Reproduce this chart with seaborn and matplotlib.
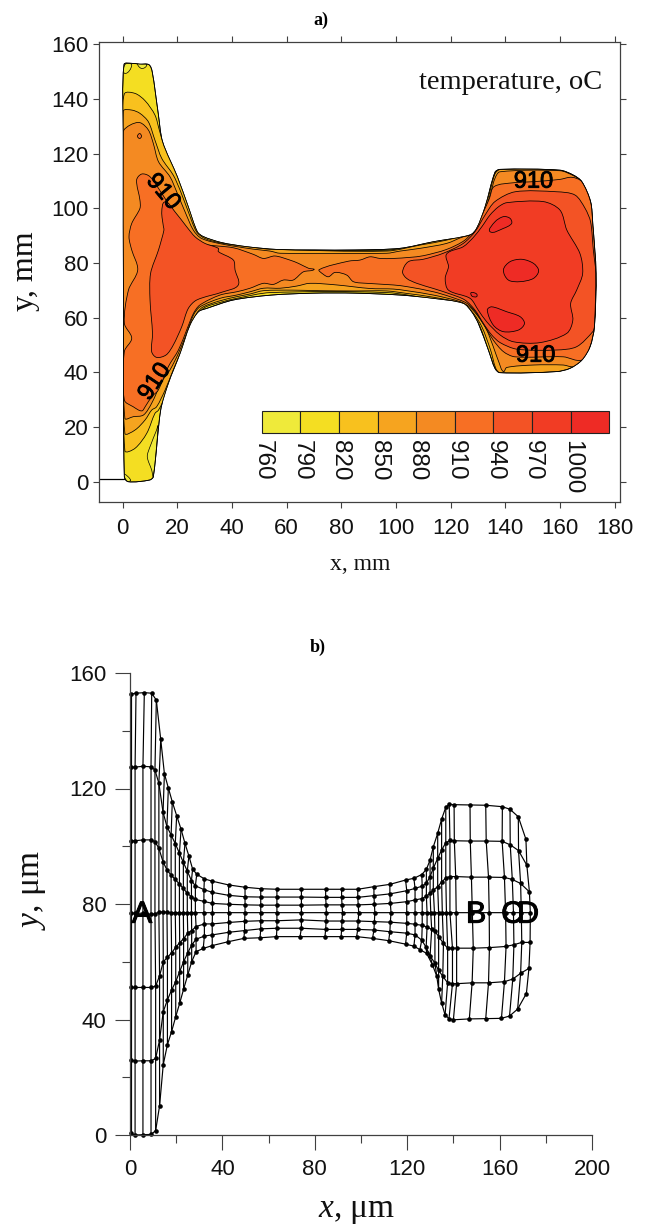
import matplotlib
matplotlib.use("Agg")
import matplotlib.pyplot as plt
import matplotlib.patheffects as pe
from matplotlib.patches import PathPatch
from matplotlib.path import Path
import numpy as np
import pandas as pd
import seaborn as sns

# --- panel a: temperature regions, mm ---
levels = [760, 790, 820, 850, 880, 910, 940, 970, 1000]
level_colors = ['#EFEA3A', '#F4DE22', '#F8C11E', '#F6A41F', '#F48A22', '#F76F24', '#F35325', '#F13C24', '#EE2B25']

outline = [(0.5,152.7),(3.3,153.1),(6.3,152.8),(9.6,152.6),(10.8,150),(13,134.8),(14.6,124.4),(20,111.6),(24,100.6),
           (27.3,91.5),(29.5,89.7),(36.2,87.5),(45.4,86),(56.3,85),(70,84.8),(85,84.8),(101.5,85.4),(113.6,87.8),
           (127.1,90.3),(129.5,92.7),(132.6,100.6),(136.2,113.2),(138,114.3),(160,114),(164.9,112.2),(168,109.8),
           (171.2,102.5),(172,94.5),(173.2,76.3),(172.6,56.7),(171,49.4),(168,44.5),(163.7,41.5),(158.8,40.3),
           (138,39.9),(136.2,41.5),(133.8,48.2),(130.1,58),(127.7,62.2),(124.6,65.3),(113.6,67.1),(101.5,68.3),
           (85,69),(70,69),(54.5,68.3),(40.5,66.5),(30.7,63.4),(27.7,62.2),(24.6,57.3),(21,47),(16.7,36),(13.9,26.2),
           (11.2,1.8),(9.8,0.6),(2,0),(0.6,1.8),(0.3,60),(0.2,128)]

tips_760 = [[(0.85,149.4),(3.3,152.5),(0.85,152.7)],
            [(5.4,153),(7,151.2),(8.8,152.5),(7,152.9)],
            [(0.6,2.8),(2.9,0.6),(1.8,0.1),(0.7,1.6)],
            [(9,9.1),(10.6,4.3),(11.2,1.8),(13,20.7),(12.4,18.9),(10,12.8)]]

region_820 = [(0.6,141.9),(4.5,142.1),(8.2,139.4),(11.8,134.2),(13.4,128.7),(15.1,123.2),(20.4,111.6),(24.4,100.6),
              (27.4,92),(30.1,89.6),(36.8,87.7),(45.4,86.4),(53.9,85.2),(96.6,84.7),(108.8,87),(118.5,88.9),(125.7,90.3),
              (127.7,90.3),(130.1,95.1),(132.9,103.1),(135.9,112.2),(137.8,114),(160,114),(164.9,112.2),(168,109.8),
              (171.2,102.5),(172,94.5),(173.2,76.3),(172.6,56.7),(171,49.4),(168,44.5),(163.7,41.5),(158.8,40.3),
              (138,39.9),(136.5,40.9),(133.8,48.2),(130.5,57.3),(127.7,61.6),(124.6,64.6),(113.7,66.7),(96.6,69.2),
              (54,69.2),(41.7,67.1),(35.6,65.6),(30.1,63.8),(27.7,61.4),(25.3,55.5),(22.2,48.2),(19.1,40.3),(16.1,32.3),
              (13.1,26.2),(11.8,25),(8.8,17.7),(4.5,12.2),(0.8,11.3),(0.3,60),(0.2,128)]

region_850 = [(0.2,135.6),(3.3,136),(6.3,134.8),(9.4,131.7),(11.8,125),(14.3,118.3),(18.5,112.2),(21,106.7),(24,98.8),
              (27,91.5),(30.1,89),(36.2,87.3),(45.4,86.1),(53.9,85.1),(96.6,84.4),(108.8,86.6),(118.5,88.4),(125.3,90.5),
              (128.3,90.9),(130.7,96.4),(133.8,104.3),(136.2,112.6),(138,114.2),(160,114),(164.9,112.2),(168,109.8),
              (171.2,102.5),(172,94.5),(173.2,76.3),(172.6,56.7),(171,49.4),(168,44.5),(163.7,41.5),(158.8,40.3),
              (138,39.9),(136.5,41.5),(134.6,48.2),(131.4,56.7),(128.3,61.6),(124.6,65),(113.7,67.5),(103.9,68.9),
              (96.6,69.8),(84.4,69.8),(72.2,69.9),(62.4,70.1),(51.5,69.9),(46.6,68.7),(41.7,67.7),(35.6,66.2),(29.5,64),
              (27.1,61.6),(24.6,55.5),(21.6,48.2),(18.5,40.9),(15.5,33.5),(12.4,27.4),(10.6,26.2),(8.2,22.6),(4.5,18.9),
              (0.8,17.7),(0.3,60)]

region_880 = [(0.2,128),(2.7,130.5),(6.3,131.4),(9.4,128.7),(11.2,123.8),(13.1,117.1),(17.3,111.6),(20,105.5),(22.8,98.8),
              (25.9,92),(28.9,89),(36.2,87),(47.8,85.1),(53.9,84.4),(57.6,83.6),(96.6,83.6),(101.5,84.4),(108.8,85.4),
              (118.5,87.2),(124.7,89.7),(128.9,90.9),(132,97.6),(134.6,105.5),(136.2,111),(138,113.4),(160,113.8),
              (164.9,112),(168,109.8),(171.2,102.5),(172,94.5),(173.2,76.3),(172.6,56.7),(171,49.4),(168,44.5),(164.9,42.1),
              (161.2,42.7),(150.3,42.7),(140.5,41.8),(139.3,40.3),(137.8,43.3),(135.6,49.4),(133.2,55.5),(130.1,60.4),
              (127.1,63.8),(123.4,65.9),(113.7,68.3),(103.9,69.9),(99,70.5),(90.5,70.7),(78.3,72),(68.5,72.6),(63.7,71.6),
              (57.6,70.8),(51.5,70.8),(46.6,69.5),(41.7,68.3),(35.6,67.1),(28.3,64),(25.9,61),(23.4,54.3),(20.4,47),
              (17.3,40.9),(14.3,36.6),(10.6,28.7),(7.6,24.4),(3.9,23.8),(0.8,23.2),(0.3,60)]

region_910_left = [(7,112.6),(10,111.6),(14.3,105.5),(17.9,100),(21.6,95.1),(25.2,90.2),(28.3,87.2),(40.5,85.6),(47.8,83.2),
                   (51.5,81.7),(55.7,82.6),(61.2,81.1),(64.3,79.9),(68,78.1),(70,77.6),(66.1,76.8),(62.4,73.8),(58.8,73.8),
                   (55.1,72.2),(51.5,72.6),(46.6,70.8),(41.7,69.5),(35.6,68.3),(28.3,64.7),(25.9,61.6),(23.4,55.5),(20.4,48.2),
                   (16.7,42.1),(13,33.5),(10.6,31.1),(8.2,27.4),(6.95,25.9),(3.9,27.4),(0.6,29.9),(0.6,47.6),(3.3,52.5),
                   (0.6,58),(2.1,70.1),(5.5,77.5),(3.3,84.8),(2.3,89.6),(3.3,94.5),(6.3,100),(6.3,103.1),(5.1,110.4)]

region_910_right = [(71.9,77.6),(82.6,80.7),(86.8,81.1),(90.5,82.3),(94.2,81.7),(99,81.7),(105.1,82.1),(110,82.7),(118.5,85),
                    (125.2,88.4),(128.9,92.7),(132,98.8),(134.2,103.7),(135.9,108),(143,109.4),(150.3,109.8),(159.8,110.6),
                    (164.3,111.4),(168,109.8),(171.2,102.5),(172,94.5),(173.2,76.3),(172.6,56.7),(171,49.4),(168,44.5),
                    (161.2,45.7),(143.5,45.7),(139.3,47.6),(135.6,51.8),(132.6,56.7),(129.5,61.6),(125.9,65.3),(119.8,67.7),
                    (113.7,69.5),(103.9,71.4),(99,72),(89.3,72.6),(84.4,73.2),(82,75.6),(77.7,76.6),(75.3,75),(73.4,75.9)]

region_940_left = [(15.5,102.4),(19.1,98.8),(23.4,93.3),(26.5,89.6),(30.1,87.2),(35,85.4),(35,84.2),(40.5,81.1),(41.1,77.5),
                   (42.3,72),(36.8,69.5),(27.1,66.5),(24,63.4),(21.6,56.7),(18.5,50),(15.9,46.4),(12.4,45.5),(10.6,47.6),
                   (10.9,54.3),(10,66.5),(10.2,76.2),(13.1,84.8),(15.1,92.1),(14.9,93.3),(14.3,98.8)]

region_940_right = [(102.4,76.8),(104.5,80.5),(110,81.4),(117.3,83.6),(124.6,87.2),(128.9,91.5),(132.6,97.6),(136.2,102.5),
                    (143.6,106.1),(158.8,106.1),(165.5,104.9),(169.2,100),(171.2,95.1),(172.2,84.8),(173.1,76.2),(172.6,56.7),
                    (172,54.9),(166.1,49.4),(158.8,48.2),(144.2,48.5),(138.1,50.9),(135,53.7),(132,57.9),(128.9,62.8),
                    (125.2,66.5),(119.8,68.7),(113.7,70.7),(107.6,72.6),(103.9,74.4)]

region_970 = [(118.5,83.3),(124.6,86),(128.3,89.4),(131.4,93.3),(134.4,97.6),(137.5,100.6),(140.5,102.1),(153.9,102.5),
              (160,99.4),(162.5,92.1),(167.3,83.5),(168.3,76.2),(166.1,70.1),(163.9,65.2),(164.7,59.1),(162.5,54.3),
              (152.7,50.9),(143,51.2),(138.1,53.7),(133.2,58.5),(130.1,62.8),(127.1,67.1),(119.2,70.1),(118,74.4),(119.2,78.7)]

islands_1000 = [[(139.3,77.5),(141.7,80.5),(146,81.4),(150.3,79.9),(152.2,77.2),(150.3,74.4),(145.4,73.2),(141.1,73.8)],
                [(134.4,91.5),(136.2,95.1),(139.3,97),(141.7,96.4),(142.3,94.5),(139.3,92.7)],
                [(133.4,62.8),(135,64),(140.5,62.2),(145.4,60.4),(147,57.9),(144.8,55.5),(139.3,54.9),(135.6,57.3)],
                [(127.5,69.2),(129.5,68.7),(129.5,67.7),(127.8,67.9)]]

small_ring = [(5.4,126.4),(6.2,127.4),(6.9,126.4),(6.2,125.6)]
stub_x = [-8.67, 0.5]
stub_y = [0.9, 0.9]

contour_labels = ['910', '910', '910', '910']
contour_label_x = [14.7, 11.8, 150.3, 151.1]
contour_label_y = [106, 36.5, 109.8, 46.1]
contour_label_rot = [-50, 56, 0, 0]

# --- panel b: deformed mesh, um, rows run top to bottom ---
row0_x = [0.4,2.6,6.2,9.4,11.4,13.3,14.9,16.6,18.3,20.2,22.1,23.8,25.5,27.1,28.9,32.2,35.6,42.7,49.8,56.6,63.6,74.2,84.7,91.6,98.6,105.6,112.5,119.3,122.9,126.3,128.3,129.9,131.3,133.2,134.9,136.7,138.2,140.3,147.2,154,161.2,164.5,168.1,171.4]
row1_x = [0.4,2.2,5.6,9.1,10.8,12.5,14.3,16,17.8,19.6,21.4,23.1,24.8,26.6,28.3,32,35.7,42.7,49.8,56.6,63.6,74.2,84.7,91.6,98.6,105.6,112.5,119.8,123.4,126.5,128.3,129.9,131.3,133.2,134.9,136.7,138.5,140.4,147.3,154.2,161.1,164.6,168.2,171.8]
row2_x = [0.4,2.2,5.6,9.1,10.8,12.5,14.3,16,17.8,19.6,21.4,23.1,24.8,26.6,28.3,32,35.7,42.7,49.8,56.6,63.6,74.2,84.9,91.8,98.8,105.8,112.7,119.8,123.4,126.5,128.3,129.9,131.3,133.2,134.9,136.7,138.5,141,147.8,155.2,162.1,165.5,169.1,172.9]
row3_x = [0.4,2.2,5.6,9.1,10.8,12.5,14.3,16,17.8,19.6,21.4,23.1,24.8,26.6,28.3,32,35.7,42.7,49.8,56.6,63.6,74.2,85,92,99,106,113,119.8,123.4,126.5,128.6,130.2,131.8,133.6,135.2,137,138.5,141.2,148.2,155.5,162.6,166,169.4,173.3]
row4_x = [0.4,2.2,5.6,9.1,11.1,12.8,14.4,16.2,18,19.8,21.5,23.2,25,26.7,28.6,32.2,35.6,42.7,49.6,56.6,63.6,74.2,84.9,91.8,98.8,105.8,112.7,119.8,123.4,126.5,128.6,130.6,132,133.6,135.7,137.5,139.6,141.4,148.6,155.6,162.8,166.2,169.6,173.2]
row5_x = [0.4,2.2,5.6,9.1,11.1,12.8,14.4,16.2,18,19.8,21.5,23.2,25,26.7,28.6,32.2,35.6,42.7,49.6,56.6,63.6,74.2,84.7,91.6,98.6,105.6,112.5,119.8,123.4,126.3,128.2,129.9,132,133.6,135.4,137.5,139.6,141.4,148.1,155.2,162.1,165.7,169.1,172.7]
row6_x = [0.4,2.2,5.6,9.1,11.1,12.8,14.4,16.2,18,19.8,21.5,23.2,25,26.7,28.6,31.7,35.6,42.3,49.3,56.3,63.4,73.6,84.4,91.4,98.1,105,112,119.3,122.9,125.5,128.4,130.9,132.8,133.6,134.9,136.4,138.1,140,146.9,154,160.8,164.3,167.8,171.6]

row0_y = [152.7,153,153.2,153,150.6,137,125.1,120.2,115.4,110.6,105.9,101,96.6,92.1,90.3,88.7,87.9,86.6,85.8,85.3,85.1,85.1,85.1,85.1,85.1,86,86.8,88.3,88.9,90.2,92,95.2,99.8,104.5,109.4,113.5,114.5,114.4,114.3,114.2,113.7,112.8,110.2,102.4]
row1_y = [127.4,127.4,127.7,127.5,126.4,121.8,111.8,106.8,103.9,100.9,97.6,94.4,91.4,88.1,86.3,85,84,83,82.5,82.4,82.4,82.4,82.3,82.3,82.3,82.9,83.5,84.6,85.4,86.2,87.2,89.5,92.4,95.8,98.7,101.2,102,101.9,101.8,101.8,101.7,100.5,98.5,93.4]
row2_y = [101.9,101.9,102.2,102.2,101.6,99.3,94.6,91.8,90,88.5,86.9,85.4,83.7,82.5,81.6,80.9,80.2,79.9,79.7,79.6,79.6,79.6,79.7,79.7,79.7,79.9,80.2,80.8,81.4,81.9,82.7,83.7,84.8,86,87.6,89,89.5,89.5,89.3,89.3,89.2,88.5,87.1,84.2]
row3_y = [76.8,76.8,76.8,76.4,76.6,77.1,77.3,77.1,77,77,77,77,77,77,77,77,77,77,77,77,77,77,77,77,77,77,77,77,77,77,77,77,77,77,77,77,77,77,77,77,77,77,77,77]
row4_y = [51.1,51.1,51.1,51.1,51.6,55.1,60,61.5,63.1,65,66.6,68,69.9,70.8,72.2,73.1,73.1,73.6,74,74.2,74.2,74.5,74.1,74.1,74.1,73.9,73.7,73.3,73,72.6,72,71.2,70.6,68.7,66.4,64.7,64.7,64.7,64.7,64.9,65.3,65.9,66.7,66.7]
row5_y = [26,25.6,25.7,25.7,26.5,32.9,42.7,46.8,50.2,53.1,56.6,60,63.1,65.8,67.8,68.9,69.3,70.2,70.8,71.4,71.6,71.6,71.2,71.2,71.2,71,70.4,69.9,69.3,67.5,65,62,59.5,57,55,52.7,52.4,52.4,52.7,52.7,53.1,54,56,57.7]
row6_y = [0.6,0,0.1,0.2,1.5,10.1,24.4,31.3,35.8,41,45.6,50.5,55.4,60,63.5,64.6,65.6,66.9,68.1,68.3,68.7,68.7,68.7,68.7,68.7,68.1,67.3,66.1,65.4,64.2,62.9,59,55,50.5,45.7,41.6,40.3,39.9,40.2,40.3,40.4,41.2,43.6,49]

mesh_labels = ['A', 'B', 'C', 'D']
mesh_label_x = [5.2, 149.8, 165.4, 172.3]
mesh_label_y = [76.3, 76.3, 76.3, 76.3]

# --- build long table for the mesh ---
rows_x = [row0_x, row1_x, row2_x, row3_x, row4_x, row5_x, row6_x]
rows_y = [row0_y, row1_y, row2_y, row3_y, row4_y, row5_y, row6_y]
mesh = pd.DataFrame([{'row': r, 'col': c, 'x': rows_x[r][c], 'y': rows_y[r][c]}
                     for r in range(7) for c in range(len(row0_x))])

sns.set_theme(style='ticks')
plt.rcParams['font.family'] = ['Liberation Sans', 'DejaVu Sans']
plt.rcParams['mathtext.fontset'] = 'custom'
plt.rcParams['mathtext.it'] = 'Liberation Serif:italic'
plt.rcParams['mathtext.rm'] = 'Liberation Serif'

W, H = 647, 1225
fig = plt.figure(figsize=(W / 100, H / 100), dpi=100)
spine_col = '#404040'


def box(left, top, right, bottom):
    return [left / W, 1 - bottom / H, (right - left) / W, (bottom - top) / H]


def curve_through(pts):
    # closed bezier through the read points so contours are not faceted
    p = np.array(pts, dtype=float)
    n = len(p)
    verts = [p[0]]
    codes = [Path.MOVETO]
    for i in range(n):
        a, b, c, d = p[i - 1], p[i], p[(i + 1) % n], p[(i + 2) % n]
        seg = np.linalg.norm(c - b)
        t1 = (c - a) / max(np.linalg.norm(c - a), 1e-6)
        t2 = (d - b) / max(np.linalg.norm(d - b), 1e-6)
        verts += [b + t1 * seg * 0.3, c - t2 * seg * 0.3, c]
        codes += [Path.CURVE4] * 3
    return Path(verts, codes)


def fill_region(ax, pts, color, clip=None, lw=0.55):
    patch = PathPatch(curve_through(pts), facecolor=color, edgecolor='black', linewidth=lw)
    ax.add_patch(patch)
    if clip is not None:
        patch.set_clip_path(clip)
    return patch


# --- PANEL A ---
ax1 = fig.add_axes(box(99, 42.3, 620, 502.3))
ax1.set_xlim(-8.67, 181.96)
ax1.set_ylim(-7.54, 160.8)

shape = fill_region(ax1, outline, level_colors[1])
for tip in tips_760:
    fill_region(ax1, tip, level_colors[0], shape, 0.5)
for region, lev in [(region_820, 2), (region_850, 3), (region_880, 4), (small_ring, 5), (region_910_left, 5),
                    (region_910_right, 5), (region_940_left, 6), (region_940_right, 6), (region_970, 7)]:
    fill_region(ax1, region, level_colors[lev], shape)
for isl in islands_1000:
    fill_region(ax1, isl, level_colors[8], shape)
ax1.add_patch(PathPatch(curve_through(outline), facecolor='none', edgecolor='black', linewidth=0.6))
ax1.plot(stub_x, stub_y, color='black', lw=0.9)

for t, x, y, r in zip(contour_labels, contour_label_x, contour_label_y, contour_label_rot):
    ax1.text(x, y, t, rotation=r, fontsize=17, ha='center', va='center', color='black',
             rotation_mode='anchor', path_effects=[pe.withStroke(linewidth=0.6, foreground='black')])

# colour key inside the axes
key_left = 50.9
key_step = 14.12
key_edges = [key_left + i * key_step for i in range(len(levels))]
ax1.bar(key_edges, 8.3, width=key_step, bottom=17.7, align='edge', color=level_colors,
        edgecolor='#222222', linewidth=0.8)
for x, lev in zip(key_edges, levels):
    ax1.text(x + 0.4, 15.4, str(lev), rotation=270, fontsize=17.5, ha='center', va='top', color='#111111')

ax1.text(175.3, 146, 'temperature, oC', family='Liberation Serif', fontsize=20.5, ha='right', va='center',
         color='#111111')

ax1.set_xticks(range(0, 181, 20))
ax1.set_yticks(range(0, 161, 20))
ax1.tick_params(axis='y', right=True, length=4.5, width=0.8, color=spine_col, labelsize=16, pad=3,
                labelcolor='#111111')
ax1.tick_params(axis='x', top=True, length=4.5, width=0.8, color=spine_col, labelsize=16, pad=7,
                labelcolor='#111111')
for s in ax1.spines.values():
    s.set_color(spine_col)
    s.set_linewidth(0.9)

# --- PANEL B ---
ax2 = fig.add_axes(box(130, 673, 592, 1135))
ax2.set_xlim(0, 200)
ax2.set_ylim(0, 160)
sns.lineplot(data=mesh, x='x', y='y', units='col', estimator=None, sort=False, color='black', lw=0.85,
             legend=False, ax=ax2, clip_on=False)
sns.lineplot(data=mesh, x='x', y='y', units='row', estimator=None, sort=False, color='black', lw=0.85,
             marker='o', markersize=3.3, markeredgewidth=0, legend=False, ax=ax2, clip_on=False)

for t, x, y in zip(mesh_labels, mesh_label_x, mesh_label_y):
    ax2.text(x, y, t, fontsize=22, ha='center', va='center', color='black',
             path_effects=[pe.withStroke(linewidth=0.7, foreground='black')])

ax2.set_xticks(range(0, 201, 40))
ax2.set_xticks(range(20, 200, 40), minor=True)
ax2.set_yticks(range(0, 161, 40))
ax2.set_yticks(range(20, 160, 40), minor=True)
ax2.tick_params(which='major', length=11, width=0.8, color=spine_col, labelsize=16, pad=6, labelcolor='#111111')
ax2.tick_params(which='minor', length=5.5, width=0.8, color=spine_col)
ax2.set_xlabel('')
ax2.set_ylabel('')
sns.despine(ax=ax2)
for s in ['left', 'bottom']:
    ax2.spines[s].set_color(spine_col)
    ax2.spines[s].set_linewidth(0.9)

# --- titles and axis names ---
serif = 'Liberation Serif'
fig.text(321 / W, 1 - 20 / H, 'a)', family=serif, weight='bold', fontsize=13, ha='center', va='center', color='black')
fig.text(318 / W, 1 - 647 / H, 'b)', family=serif, weight='bold', fontsize=13, ha='center', va='center', color='black')
fig.text(25 / W, 1 - 271 / H, 'y, mm', family=serif, fontsize=23, rotation=90, ha='center', va='center', color='#111111')
fig.text(360 / W, 1 - 564 / H, 'x, mm', family=serif, fontsize=17, ha='center', va='center', color='#111111')
fig.text(33 / W, 1 - 890 / H, r'$\mathit{y}$, μm', family=serif, fontsize=24, rotation=90, ha='center', va='center', color='#111111')
fig.text(357 / W, 1 - 1211 / H, r'$\mathit{x}$, μm', family=serif, fontsize=24, ha='center', va='center', color='#111111')

fig.savefig('out.png', dpi=100)
